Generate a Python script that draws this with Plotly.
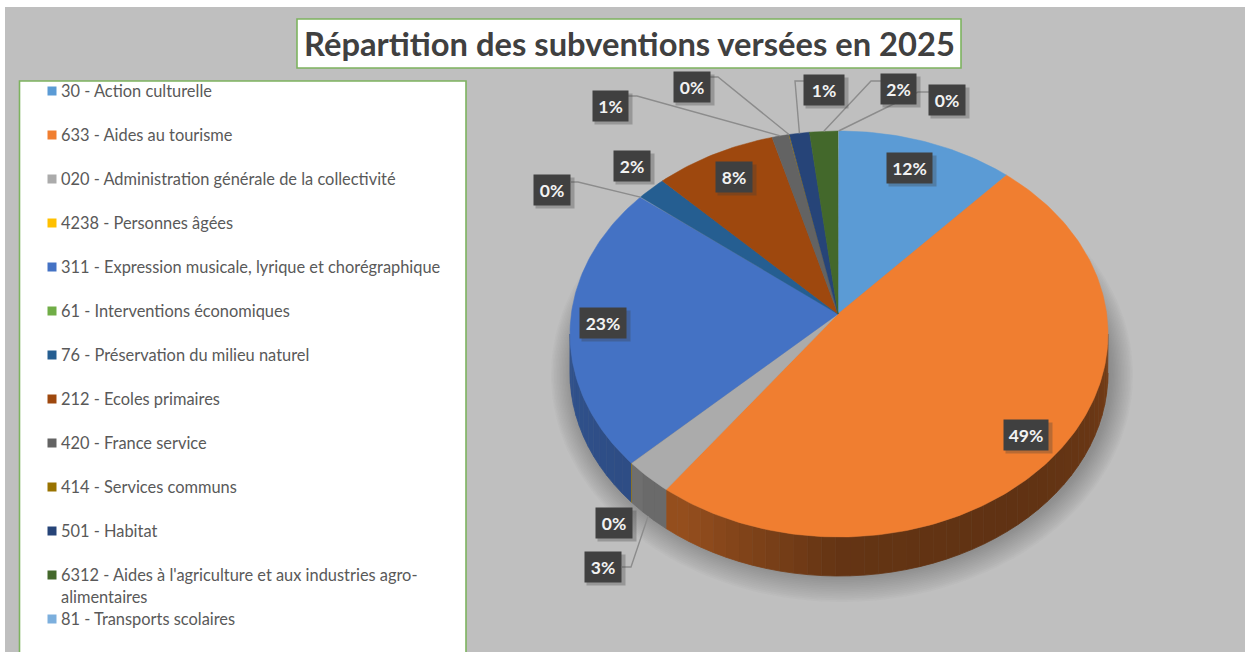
import numpy as np
import plotly.graph_objects as go

# ---------- data ----------
categories = [
    "30 - Action culturelle",
    "633 - Aides au tourisme",
    "020 - Administration générale de la collectivité",
    "4238 - Personnes âgées",
    "311 - Expression musicale, lyrique et chorégraphique",
    "61 - Interventions économiques",
    "76 - Préservation du milieu naturel",
    "212 - Ecoles primaires",
    "420 - France service",
    "414 - Services communs",
    "501 - Habitat",
    "6312 - Aides à l'agriculture et aux industries agro-|alimentaires",
    "81 - Transports scolaires",
]
slice_shares = [10.7, 50.4, 2.9, 0.05, 22.7, 0.05, 1.8, 7.4, 1.0, 0.05, 1.2, 1.7, 0.05]
percent_labels = ["12%", "49%", "3%", "0%", "23%", "0%", "2%", "8%", "1%", "0%", "1%", "2%", "0%"]
colors = ["#5B9BD5", "#F07E30", "#ABABAB", "#FFC000", "#4472C4", "#70AD47",
          "#255E91", "#9E480E", "#636363", "#997300", "#264478", "#43682B", "#7CAFDD"]
title_text = "Répartition des subventions versées en 2025"

# ---------- layout constants ----------
W, H = 1245, 652
CX, CY, RX, RY = 839, 334, 269, 203
APEX = (838, 314)
DEPTH = 39
BG = "#BFBFBF"
GREEN = "#7DB35F"
# label box centre and width; leader = elbow points, ends on the slice edge
label_boxes = {
    0: (909, 168, 45), 1: (1026, 435, 44), 2: (603, 567, 36), 3: (614, 523, 36),
    4: (603, 323, 46), 5: (552, 190, 36), 6: (632, 166, 36), 7: (734, 177, 36),
    8: (610, 106, 35), 9: (692, 87, 36), 10: (824, 90, 40), 11: (898, 89, 35), 12: (947, 100, 36),
}
leaders = {
    2: [(622, 567), (631, 567)],
    5: [(571, 182), (578, 182)],
    8: [(628, 96), (637, 96)],
    9: [(710, 77), (718, 77)],
    10: [(804, 81), (795, 81)],
    11: [(881, 81), (871, 81)],
    12: [(929, 92), (918, 92)],
}


def ell(phi_deg, dy=0.0, cx=CX, cy=CY, rx=RX, ry=RY):
    p = np.radians(phi_deg)
    return cx + rx * np.sin(p), cy - ry * np.cos(p) + dy


def shade(hex_color, f):
    r, g, b = (int(hex_color[i:i + 2], 16) for i in (1, 3, 5))
    return f"rgb({int(r * f)},{int(g * f)},{int(b * f)})"


shares = np.array(slice_shares, dtype=float)
edges = np.concatenate([[0], np.cumsum(shares)]) / shares.sum() * 360

fig = go.Figure()
common = dict(hoverinfo="skip", showlegend=False)

# soft shadow under the pie
for k in np.linspace(0, 1, 16):
    x, y = ell(np.linspace(0, 360, 181), cx=CX + 3, cy=375, rx=269 + 22 * k, ry=200 + 27 * k)
    fig.add_trace(go.Scatter(x=x, y=y, mode="lines", fill="toself", line=dict(width=0),
                             fillcolor="rgba(60,60,60,0.026)", **common))

# side wall, lit by angle
shade_phi = [90, 110, 140, 180, 215, 225, 232, 270]
shade_val = [0.50, 0.44, 0.40, 0.42, 0.62, 0.62, 0.68, 0.72]
for i in range(len(shares)):
    a, b = max(edges[i], 90), min(edges[i + 1], 270)
    if b <= a:
        continue
    n = max(1, int((b - a) / 3))
    steps = np.linspace(a, b, n + 1)
    for s0, s1 in zip(steps[:-1], steps[1:]):
        ph = np.linspace(s0, s1, 4)
        x1, y1 = ell(ph)
        x2, y2 = ell(ph[::-1], dy=DEPTH)
        col = shade(colors[i], float(np.interp((s0 + s1) / 2, shade_phi, shade_val)))
        fig.add_trace(go.Scatter(x=np.r_[x1, x2], y=np.r_[y1, y2], mode="lines", fill="toself",
                                 fillcolor=col, line=dict(width=0.8, color=col), **common))

# top surface
for i in range(len(shares)):
    ph = np.linspace(edges[i], edges[i + 1], max(3, int(edges[i + 1] - edges[i]) + 2))
    x, y = ell(ph)
    fig.add_trace(go.Scatter(x=np.r_[APEX[0], x, APEX[0]], y=np.r_[APEX[1], y, APEX[1]],
                             mode="lines", fill="toself", fillcolor=colors[i],
                             line=dict(width=0.5 if shares[i] >= 0.5 else 0, color=colors[i]), **common))

# leader lines
mids = (edges[:-1] + edges[1:]) / 2
for i, pts in leaders.items():
    ex, ey = ell(mids[i], dy=DEPTH if 90 < mids[i] < 270 else 0)
    xs = [p[0] for p in pts] + [ex]
    ys = [p[1] for p in pts] + [ey]
    fig.add_trace(go.Scatter(x=xs, y=ys, mode="lines", line=dict(color="#8C8C8C", width=1.4), **common))

# legend swatches + text
LEG_X, LEG_Y0, LEG_STEP = 52, 90, 44.0
annots = []
sw_x, sw_y = [], []
for i, cat in enumerate(categories):
    yy = LEG_Y0 + LEG_STEP * i
    sw_x.append(LEG_X)
    sw_y.append(yy + 1)
    for j, part in enumerate(cat.split("|")):
        annots.append(dict(x=LEG_X + 7, y=yy + 22 * j, text=part, showarrow=False, xanchor="left",
                           yanchor="middle", xref="x", yref="y",
                           font=dict(family="Lato", size=16.4, color="#595959")))
fig.add_trace(go.Scatter(x=sw_x, y=sw_y, mode="markers",
                         marker=dict(symbol="square", size=9, color=colors, line=dict(width=0)), **common))

# data labels: shadow box + dark box
for i, lab in enumerate(percent_labels):
    bx, by, bw = label_boxes[i]
    annots.append(dict(x=bx + 3, y=by + 3, text=" ", showarrow=False, xref="x", yref="y",
                       width=bw + 2, height=30, bgcolor="rgba(60,60,60,0.30)",
                       font=dict(size=12), borderpad=0))
    annots.append(dict(x=bx, y=by, text=f"<b>{lab}</b>", showarrow=False, xref="x", yref="y",
                       width=bw, height=30, bgcolor="#404040", align="center", valign="middle",
                       font=dict(family="Lato", size=17.5, color="#F2F2F2"), borderpad=0))

# title
annots.append(dict(x=629, y=43, text=f"<b>{title_text}</b>", showarrow=False, xref="x", yref="y",
                   xanchor="center", yanchor="middle",
                   font=dict(family="Lato", size=32.7, color="#404040")))

shapes = [
    dict(type="rect", x0=5, y0=7, x1=W + 5, y1=H + 5, fillcolor=BG, line=dict(width=0), layer="below"),
    dict(type="rect", x0=297, y0=19, x1=961, y1=68, fillcolor="white", line=dict(color=GREEN, width=1.6), layer="below"),
    dict(type="rect", x0=19.5, y0=81, x1=466, y1=H + 10, fillcolor="white", line=dict(color=GREEN, width=1.6), layer="below"),
]

fig.update_layout(
    width=W, height=H, margin=dict(l=0, r=0, t=0, b=0),
    paper_bgcolor="white", plot_bgcolor="white", showlegend=False,
    xaxis=dict(range=[0, W], visible=False, fixedrange=True),
    yaxis=dict(range=[H, 0], visible=False, fixedrange=True),
    annotations=annots, shapes=shapes,
)
fig.write_html("out.html", config={"displayModeBar": False},
               post_script="document.body.style.margin='0';document.body.style.overflow='hidden';")
